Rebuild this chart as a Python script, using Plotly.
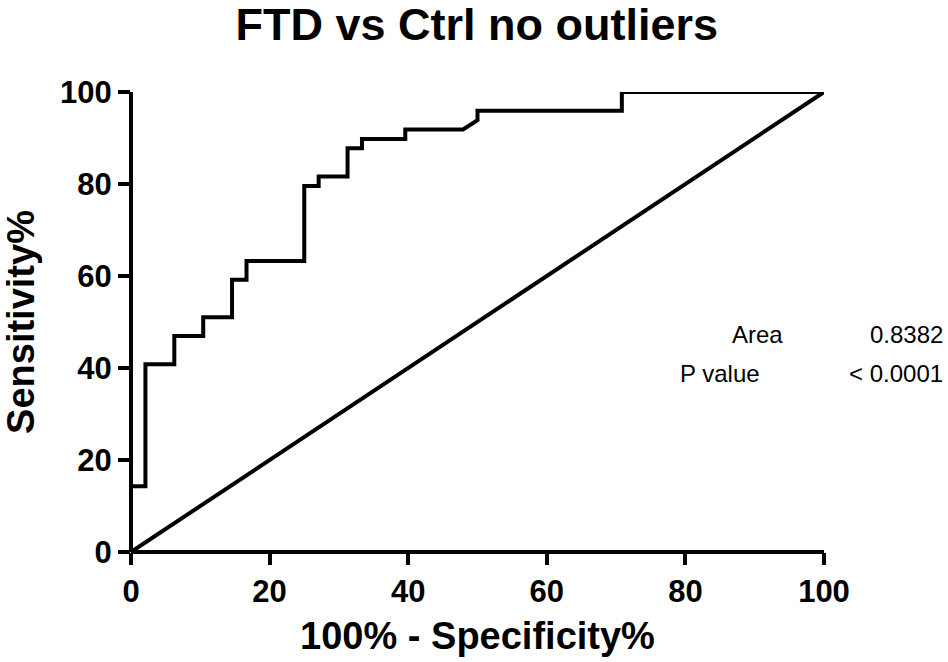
import plotly.graph_objects as go

# ROC curve vertices: 100% - Specificity% (x) and Sensitivity% (y)
fpr = [0, 0, 2.083, 2.083, 6.25, 6.25, 10.42, 10.42, 14.58, 14.58, 16.67, 16.67,
       25.0, 25.0, 27.08, 27.08, 31.25, 31.25, 33.33, 33.33, 39.58, 39.58,
       47.92, 50.0, 50.0, 70.83, 70.83, 100]
sensitivity = [0, 14.29, 14.29, 40.82, 40.82, 46.94, 46.94, 51.02, 51.02, 59.18, 59.18, 63.27,
               63.27, 79.59, 79.59, 81.63, 81.63, 87.76, 87.76, 89.80, 89.80, 91.84,
               91.84, 93.88, 95.92, 95.92, 100, 100]

# line of identity (chance)
ref_x = [0, 100]
ref_y = [0, 100]

tick_vals = [0, 20, 40, 60, 80, 100]
stat_labels = ["Area", "P value"]
stat_values = ["0.8382", "< 0.0001"]

FONT = "Liberation Sans, Arial, sans-serif"
ML, MR, MT, MB = 131, 124, 92, 110
PW, PH = 948 - ML - MR, 662 - MT - MB

fig = go.Figure()
fig.add_trace(go.Scatter(x=ref_x, y=ref_y, mode="lines",
                         line=dict(color="black", width=4), cliponaxis=False,
                         hoverinfo="skip", showlegend=False))
fig.add_trace(go.Scatter(x=fpr, y=sensitivity, mode="lines",
                         line=dict(color="black", width=4), cliponaxis=False,
                         showlegend=False))

axis_common = dict(
    range=[0, 100], tickvals=tick_vals, showgrid=False, zeroline=False,
    showline=False,
    ticks="outside", ticklen=12, tickwidth=4, tickcolor="black",
    tickfont=dict(family=FONT, size=31, color="black", weight="bold"),
)

fig.update_xaxes(**axis_common,
                 title=dict(text="100% - Specificity%", standoff=14,
                            font=dict(family=FONT, size=38, color="black", weight="bold")))
fig.update_yaxes(**axis_common,
                 title=dict(text="Sensitivity%", standoff=14,
                            font=dict(family=FONT, size=38, color="black", weight="bold")))

# axis lines centred on the data origin
fig.add_shape(type="line", xref="paper", yref="paper", x0=0, x1=1, y0=0, y1=0,
              line=dict(color="black", width=4), layer="above")
fig.add_shape(type="line", xref="paper", yref="paper", x0=0, x1=0, y0=0, y1=1,
              line=dict(color="black", width=4), layer="above")

# summary statistics table
label_x = [730, 678]
row_y = [334, 373]
for lab, lx, val, ry in zip(stat_labels, label_x, stat_values, row_y):
    fig.add_annotation(text=lab, xref="paper", yref="paper",
                       x=(lx - ML) / PW, y=(662 - MB - ry) / PH,
                       xanchor="left", yanchor="middle", showarrow=False,
                       font=dict(family=FONT, size=24, color="black"))
    fig.add_annotation(text=val, xref="paper", yref="paper",
                       x=(945 - ML) / PW, y=(662 - MB - ry) / PH,
                       xanchor="right", yanchor="middle", showarrow=False,
                       font=dict(family=FONT, size=24, color="black"))

fig.update_layout(
    width=948, height=662,
    margin=dict(l=ML, r=MR, t=MT, b=MB),
    paper_bgcolor="white", plot_bgcolor="white",
    title=dict(text="FTD vs Ctrl no outliers", x=0.503, xanchor="center",
               y=1 - 24 / 662, yanchor="middle", yref="container",
               font=dict(family=FONT, size=45, color="black", weight="bold")),
)

fig.write_html("out.html")
